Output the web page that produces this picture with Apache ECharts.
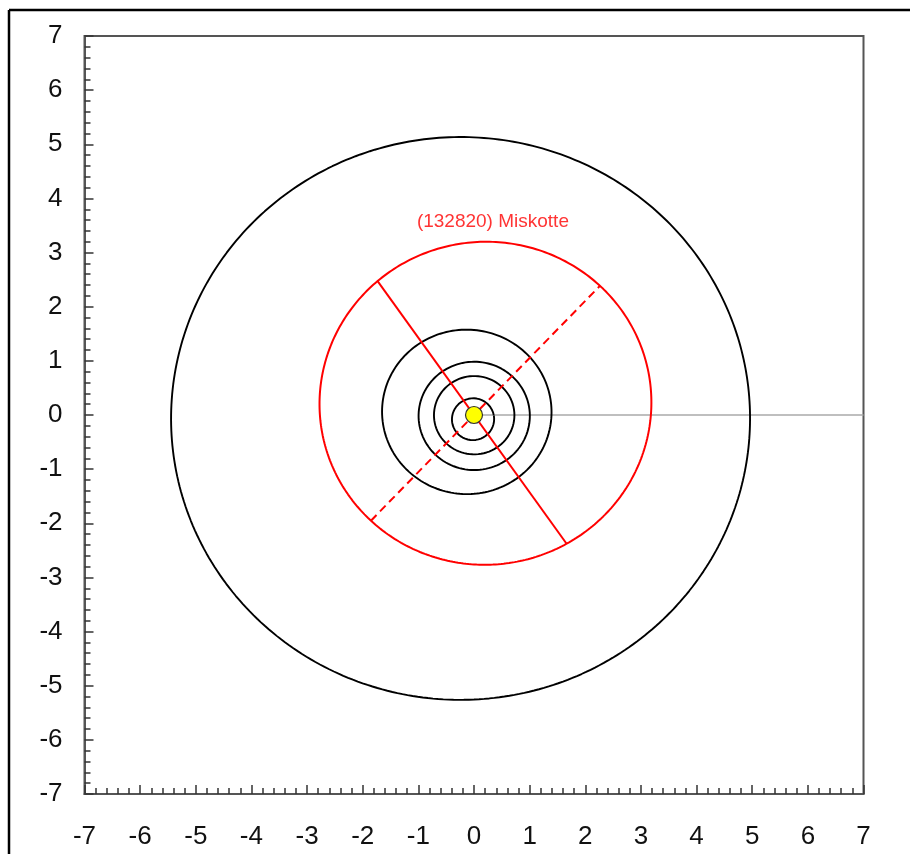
<!DOCTYPE html>
<html>
<head>
<meta charset="utf-8">
<script src="https://cdn.jsdelivr.net/npm/echarts@6/dist/echarts.min.js"></script>
<style>
  html, body { margin: 0; padding: 0; background: #ffffff; }
  #chart { width: 910px; height: 854px; }
</style>
</head>
<body>
<div id="chart"></div>
<script>
// Axis range (AU) and tick labels
const axisMin = -7;
const axisMax = 7;
const tickLabels = ['-7', '-6', '-5', '-4', '-3', '-2', '-1', '0', '1', '2', '3', '4', '5', '6', '7'];

// Planet orbits: semi-major axis (AU), eccentricity, longitude of perihelion (deg)
const planetNames = ['Mercury', 'Venus', 'Earth', 'Mars', 'Jupiter'];
const planetA = [0.387, 0.723, 1.0, 1.524, 5.203];
const planetE = [0.206, 0.007, 0.017, 0.093, 0.048];
const planetPeri = [77.5, 131.6, 102.9, 336.0, 14.7];

// Asteroid orbit
const asteroidName = '(132820) Miskotte';
const asteroidA = 2.99;
const asteroidE = 0.10;
const asteroidPeri = 226.5;   // longitude of perihelion (deg)
const asteroidNode = 125.0;   // longitude of ascending node (deg)
const asteroidLabelAt = [0.34, 3.57];

// Direction of the vernal equinox, drawn from the Sun
const equinoxLine = [[0, 0], [7, 0]];

const DEG = Math.PI / 180;

// Heliocentric distance at ecliptic longitude lon for an orbit (a, e, peri)
function radiusAt(a, e, peri, lon) {
  return a * (1 - e * e) / (1 + e * Math.cos((lon - peri) * DEG));
}
function pointAt(a, e, peri, lon) {
  const r = radiusAt(a, e, peri, lon);
  return [r * Math.cos(lon * DEG), r * Math.sin(lon * DEG)];
}
// Closed ellipse traced around the Sun in 1-degree steps
function orbitPath(a, e, peri) {
  const pts = [];
  for (let lon = 0; lon <= 360; lon += 1) pts.push(pointAt(a, e, peri, lon));
  return pts;
}

const series = [];

series.push({
  name: 'equinox',
  type: 'line',
  data: equinoxLine,
  showSymbol: false,
  silent: true,
  lineStyle: { color: '#aaaaaa', width: 1.5 },
  z: 1
});

planetNames.forEach((name, i) => {
  series.push({
    name: name,
    type: 'line',
    data: orbitPath(planetA[i], planetE[i], planetPeri[i]),
    showSymbol: false,
    silent: true,
    lineStyle: { color: '#000000', width: 1.9 },
    z: 2
  });
});

series.push({
  name: asteroidName,
  type: 'line',
  data: orbitPath(asteroidA, asteroidE, asteroidPeri),
  showSymbol: false,
  silent: true,
  lineStyle: { color: '#ff0000', width: 2 },
  z: 3
});

// Line of nodes (solid)
series.push({
  name: 'nodes',
  type: 'line',
  data: [pointAt(asteroidA, asteroidE, asteroidPeri, asteroidNode),
         pointAt(asteroidA, asteroidE, asteroidPeri, asteroidNode + 180)],
  showSymbol: false,
  silent: true,
  lineStyle: { color: '#ff0000', width: 2 },
  z: 3
});

// Line of apsides (dashed)
series.push({
  name: 'apsides',
  type: 'line',
  data: [pointAt(asteroidA, asteroidE, asteroidPeri, asteroidPeri),
         pointAt(asteroidA, asteroidE, asteroidPeri, asteroidPeri + 180)],
  showSymbol: false,
  silent: true,
  lineStyle: { color: '#ff0000', width: 2, type: [8, 5] },
  z: 3
});

// Sun
series.push({
  name: 'Sun',
  type: 'scatter',
  data: [[0, 0]],
  symbol: 'circle',
  symbolSize: 17,
  silent: true,
  itemStyle: { color: '#ffff00', borderColor: '#333333', borderWidth: 1.2, opacity: 1 },
  z: 10
});

// Asteroid name
series.push({
  name: 'label',
  type: 'scatter',
  data: [{ value: asteroidLabelAt, name: asteroidName }],
  symbolSize: 0,
  silent: true,
  label: {
    show: true,
    position: 'inside',
    formatter: '{b}',
    color: '#ff0000',
    fontSize: 19,
    fontFamily: 'Liberation Sans, Arial, sans-serif'
  },
  z: 10
});

function axisCommon(margin) {
  return {
    type: 'value',
    min: axisMin,
    max: axisMax,
    interval: 1,
    splitLine: { show: false },
    axisLine: { show: true, onZero: false, lineStyle: { color: '#555555', width: 2 } },
    axisTick: { show: true, inside: true, length: 9, lineStyle: { color: '#333333', width: 1.5 } },
    minorTick: { show: true, splitNumber: 5, length: 6, lineStyle: { color: '#333333', width: 1.5 } },
    minorSplitLine: { show: false },
    axisLabel: {
      show: true,
      margin: margin,
      fontSize: 26,
      color: '#111111',
      fontFamily: 'Liberation Sans, Arial, sans-serif',
      formatter: (v) => tickLabels[Math.round(v - axisMin)]
    }
  };
}

const chart = echarts.init(document.getElementById('chart'), null, { renderer: 'canvas' });
chart.setOption({
  animation: false,
  backgroundColor: '#ffffff',
  grid: {
    left: 84.5, right: 46.5, top: 36, bottom: 60,
    show: true, borderColor: '#555555', borderWidth: 2, backgroundColor: 'transparent'
  },
  xAxis: axisCommon(30),
  yAxis: axisCommon(22),
  series: series,
  graphic: [
    { type: 'line', shape: { x1: 9, y1: 10, x2: 9, y2: 854 }, style: { stroke: '#000000', lineWidth: 2.5 }, silent: true },
    { type: 'line', shape: { x1: 9, y1: 10, x2: 910, y2: 10 }, style: { stroke: '#000000', lineWidth: 2.5 }, silent: true }
  ]
});
</script>
</body>
</html>
